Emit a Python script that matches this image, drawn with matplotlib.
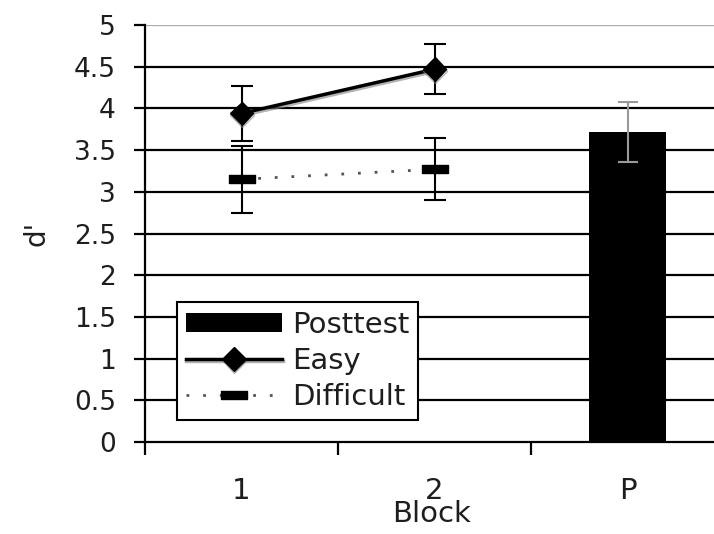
import numpy as np
import matplotlib.pyplot as plt
import matplotlib.patheffects as pe
from matplotlib.path import Path

# d' by block, with error bars
blocks = [1, 2]
easy = [3.94, 4.47]
easy_err = [0.33, 0.30]
difficult = [3.15, 3.27]
difficult_err = [0.40, 0.37]
posttest = 3.72
posttest_err = 0.36
xticklabels = ["1", "2", "P"]
yticklabels = ['0', '0.5', '1', '1.5', '2', '2.5', '3', '3.5', '4', '4.5', '5']

plt.rcParams['font.family'] = ['Verdana', 'DejaVu Sans']
txt = '#1e1e1e'

fig = plt.figure(figsize=(7.14, 5.34), dpi=100)
ax = fig.add_axes([145 / 714, 92 / 534, 1 - 145 / 714, 417 / 534])

# horizontal grid every 0.5
for y in np.arange(0.5, 5.0, 0.5):
    ax.axhline(y, color='black', lw=1.6, zorder=0)
ax.axhline(5.0, color='#aaaaaa', lw=1.6, zorder=0)

ax.bar(3, posttest, width=0.4, color='black', zorder=2, label='Posttest')
ax.errorbar(3, posttest, yerr=posttest_err, color='#999999', lw=1.5,
            capsize=7, capthick=1.5, zorder=3)

# wide flat bar marker for the difficult series
bar_marker = Path([(-1.6, -0.5), (1.6, -0.5), (1.6, 0.5), (-1.6, 0.5), (-1.6, -0.5)],
                  [Path.MOVETO, Path.LINETO, Path.LINETO, Path.LINETO, Path.CLOSEPOLY])

ax.errorbar(blocks, difficult, yerr=difficult_err, fmt='none', ecolor='black',
            elinewidth=1.5, capsize=8, capthick=1.5, zorder=3)
ax.plot(blocks, difficult, color='#555555', lw=2, linestyle=(0, (1, 5)),
        marker=bar_marker, markersize=19, markerfacecolor='black',
        markeredgecolor='black', zorder=4, label='Difficult')

ax.errorbar(blocks, easy, yerr=easy_err, fmt='none', ecolor='black',
            elinewidth=1.5, capsize=8, capthick=1.5, zorder=3)
ax.plot(blocks, easy, color='black', lw=2.5, marker='D', markersize=12,
        zorder=5, label='Easy',
        path_effects=[pe.SimpleLineShadow(offset=(0.5, -1.5), shadow_color='gray', alpha=0.6),
                      pe.Normal()])

ax.set_yticks(np.arange(0, 5.01, 0.5))
ax.set_yticklabels(yticklabels)
ax.set_xticks([0.5, 1.5, 2.5])
ax.set_xticklabels([])
ax.set_xticks([1, 2, 3], minor=True)
ax.set_xticklabels(xticklabels, minor=True)
ax.set_ylim(0, 5)
ax.set_xlim(0.5, 0.5 + 569 / 193)
ax.tick_params(axis='x', which='minor', length=0, pad=25, labelsize=21, labelcolor=txt)
ax.tick_params(axis='x', which='major', length=9, width=1.6, direction='out')
ax.tick_params(axis='y', length=8, width=1.6, direction='out', labelsize=19,
               labelcolor=txt, pad=13)

for side in ['top', 'right']:
    ax.spines[side].set_visible(False)
ax.spines['left'].set_linewidth(1.6)
ax.spines['bottom'].set_linewidth(1.6)

ax.set_xlabel('Block', fontsize=21, color=txt)
ax.xaxis.set_label_coords((432 - 145) / 569, (442 - 500) / 417)
ax.set_ylabel("d'", fontsize=20, color=txt)
ax.yaxis.set_label_coords((50 - 145) / 569, 0.5)

handles, labels = ax.get_legend_handles_labels()
order = [labels.index(n) for n in ['Posttest', 'Easy', 'Difficult']]
leg = ax.legend([handles[i] for i in order], [labels[i] for i in order],
                loc='upper left', bbox_to_anchor=(0.056, 0.336), borderaxespad=0,
                fancybox=False, edgecolor='black', framealpha=1, fontsize=21,
                handlelength=3.3, handleheight=0.65, handletextpad=0.35,
                labelspacing=0.28, borderpad=0.3)
leg.get_frame().set_linewidth(1.5)
for t in leg.get_texts():
    t.set_color(txt)

fig.savefig('out.png', dpi=100)
